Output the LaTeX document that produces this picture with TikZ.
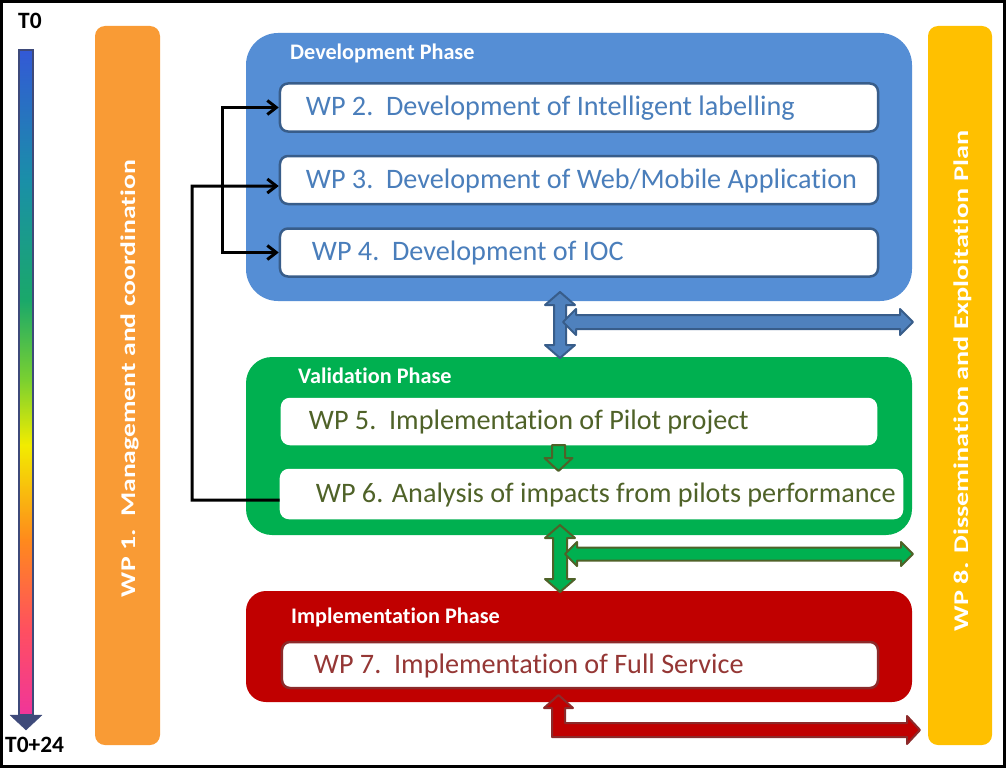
\documentclass[tikz,border=0pt]{standalone}
\usepackage{fontspec}
\setmainfont[Ligatures=NoCommon]{Carlito}
\usepackage{graphicx}
\usetikzlibrary{arrows.meta}

\definecolor{devblue}{HTML}{558ED5}
\definecolor{devline}{HTML}{385D8A}
\definecolor{devtext}{HTML}{4A7EBB}
\definecolor{devarrow}{HTML}{4F81BD}
\definecolor{valgreen}{HTML}{00B050}
\definecolor{valline}{HTML}{4F6228}
\definecolor{impred}{HTML}{C00000}
\definecolor{impline}{HTML}{8C2A2A}
\definecolor{imptext}{HTML}{953735}
\definecolor{mgmt}{HTML}{F99B35}
\definecolor{diss}{HTML}{FFC000}
\definecolor{tlline}{HTML}{3E4A7A}
\definecolor{tlpink}{HTML}{F0359A}
\definecolor{tlred}{HTML}{FF4F60}
\definecolor{tlorange}{HTML}{FF8A1C}
\definecolor{tlyellow}{HTML}{F2EC00}
\definecolor{tlgreen}{HTML}{7AD030}
\definecolor{tlsea}{HTML}{1AA86A}
\definecolor{tlteal}{HTML}{1A8FA8}
\definecolor{tlblue}{HTML}{3359D6}

\pgfdeclareverticalshading{timeline}{100bp}{color(0bp)=(tlpink); color(25bp)=(tlpink); color(31.4bp)=(tlred); color(38.2bp)=(tlorange); color(45.3bp)=(tlyellow); color(50.2bp)=(tlgreen); color(56.2bp)=(tlsea); color(65.2bp)=(tlteal); color(75bp)=(tlblue); color(100bp)=(tlblue)}

\begin{document}
\begin{tikzpicture}[x=1bp,y=-1bp,
    wpbox/.style={draw=#1, line width=2.5bp, fill=white, rounded corners=8bp, inner sep=0pt},
    wptext/.style={text=#1, anchor=base west, inner sep=0pt, font=\fontsize{28.3}{30}\selectfont},
    phasetitle/.style={text=white, anchor=base west, inner sep=0pt, font=\bfseries\fontsize{22.3}{24}\selectfont},
    bartext/.style={text=white, rotate=90, anchor=base, inner sep=0pt, font=\bfseries\fontsize{21}{21}\selectfont},
    tlabel/.style={anchor=base west, inner sep=0pt, font=\bfseries\fontsize{23.5}{24}\selectfont},
    conn/.style={line width=3bp, black},
    barrow/.style={fill=devarrow, draw=devline, line width=2bp, line join=round},
    garrow/.style={fill=valgreen, draw=valline, line width=2bp, line join=round},
    rarrow/.style={fill=impred, draw=impline, line width=2bp, line join=round}]
    \fill[white] (0,0) rectangle (1006,768);
    \useasboundingbox (0,0) rectangle (1006,768);

    % time line
    \shadedraw[shading=timeline, draw=tlline, line width=1.5bp] (19,50) rectangle (33,715);
    \filldraw[fill=tlline, draw=tlline, line join=round] (10,715) -- (42,715) -- (26,730) -- cycle;
    \node[tlabel] (t0) at (18,29) {T0};
    \node[tlabel] (t24) at (5,752) {T0+24};

    % side bars
    \fill[mgmt, rounded corners=10bp] (95,26) rectangle (160,745);
    \fill[diss, rounded corners=10bp] (928,26) rectangle (992,745);
    \node[bartext] (wp1) at (135,378.5) {\resizebox{437bp}{\height}{WP 1.\ \ Management and coordination}};
    \node[bartext] (wp8) at (968,381) {\resizebox{500bp}{\height}{WP 8. Dissemination and Exploitation Plan}};

    % phases
    \fill[devblue, rounded corners=32bp] (246,33) rectangle (912,301);
    \fill[valgreen, rounded corners=26bp] (246,357) rectangle (912,535);
    \fill[impred, rounded corners=20bp] (246,591) rectangle (912,702);
    \node[phasetitle] (devt) at (290,60) {Development Phase};
    \node[phasetitle] (valt) at (298,383) {Validation Phase};
    \node[phasetitle] (impt) at (291,623) {Implementation Phase};

    % work packages
    \node[wpbox=devline, minimum width=598bp, minimum height=48bp] (wp2) at (579,107.5) {};
    \node[wpbox=devline, minimum width=598bp, minimum height=48bp] (wp3) at (579,180) {};
    \node[wpbox=devline, minimum width=598bp, minimum height=48bp] (wp4) at (579,252.5) {};
    \node[wpbox=white, minimum width=594bp, minimum height=45bp] (wp5) at (579,421.5) {};
    \node[wpbox=white, minimum width=621bp, minimum height=48bp] (wp6) at (591.5,494) {};
    \node[wpbox=impline, minimum width=596bp, minimum height=46bp] (wp7) at (580,665) {};
    \node[wptext=devtext] (wp2t) at ([shift={(27,8)}]wp2.west) {WP 2.\ \ Development of Intelligent labelling};
    \node[wptext=devtext] (wp3t) at ([shift={(27,8)}]wp3.west) {WP 3.\ \ Development of Web/Mobile Application};
    \node[wptext=devtext] (wp4t) at ([shift={(33,8)}]wp4.west) {WP 4.\ \ Development of IOC};
    \node[wptext=valline] (wp5t) at ([shift={(28,8)}]wp5.west) {WP 5.\ \ Implementation of Pilot project};
    \node[wptext=valline] (wp6t) at ([shift={(36,8)}]wp6.west) {WP 6. Analysis of impacts from pilots performance};
    \node[wptext=imptext] (wp7t) at ([shift={(33,8)}]wp7.west) {WP 7.\ \ Implementation of Full Service};

    % block arrows
    \filldraw[garrow, shift={(558.5,445)}] (-6.5,0) -- (6.5,0) -- (6.5,13) -- (14,13) -- (0,26) -- (-14,13) -- (-6.5,13) -- cycle;
    \filldraw[barrow, shift={(560,292)}] (0,0) -- (15,13) -- (6,13) -- (6,53) -- (15,53) -- (0,66) -- (-15,53) -- (-6,53) -- (-6,13) -- (-15,13) -- cycle;
    \filldraw[barrow, shift={(563,322)}] (0,0) -- (13,-13) -- (13,-7) -- (337,-7) -- (337,-13) -- (350,0) -- (337,13) -- (337,7) -- (13,7) -- (13,13) -- cycle;
    \filldraw[garrow, shift={(560,525)}] (0,0) -- (15,13) -- (7,13) -- (7,54) -- (15,54) -- (0,67) -- (-15,54) -- (-7,54) -- (-7,13) -- (-15,13) -- cycle;
    \filldraw[garrow, shift={(565,554)}] (0,0) -- (12,-12) -- (12,-6.5) -- (336,-6.5) -- (336,-12) -- (348,0) -- (336,12) -- (336,6.5) -- (12,6.5) -- (12,12) -- cycle;
    \filldraw[rarrow] (558.5,695) -- (573,708) -- (565,708) -- (565,723) -- (907,723) -- (907,716) -- (920,730) -- (907,744) -- (907,737) -- (552,737) -- (552,708) -- (544,708) -- cycle;

    % links
    \coordinate (fb) at (192,186);
    \coordinate (br) at (222,186);
    \draw[conn, -{Straight Barb[length=9bp,width=14bp]}] ([yshift=-6bp]wp6.west) -| (fb) -- ([yshift=-6bp]wp3.west);
    \draw[conn, {Straight Barb[length=9bp,width=14bp]}-{Straight Barb[length=9bp,width=14bp]}] (wp2.west) -| (br) |- (wp4.west);

    % frame
    \draw[line width=3bp] (1.5,1.5) rectangle (1004.5,766.5);
\end{tikzpicture}
\end{document}
